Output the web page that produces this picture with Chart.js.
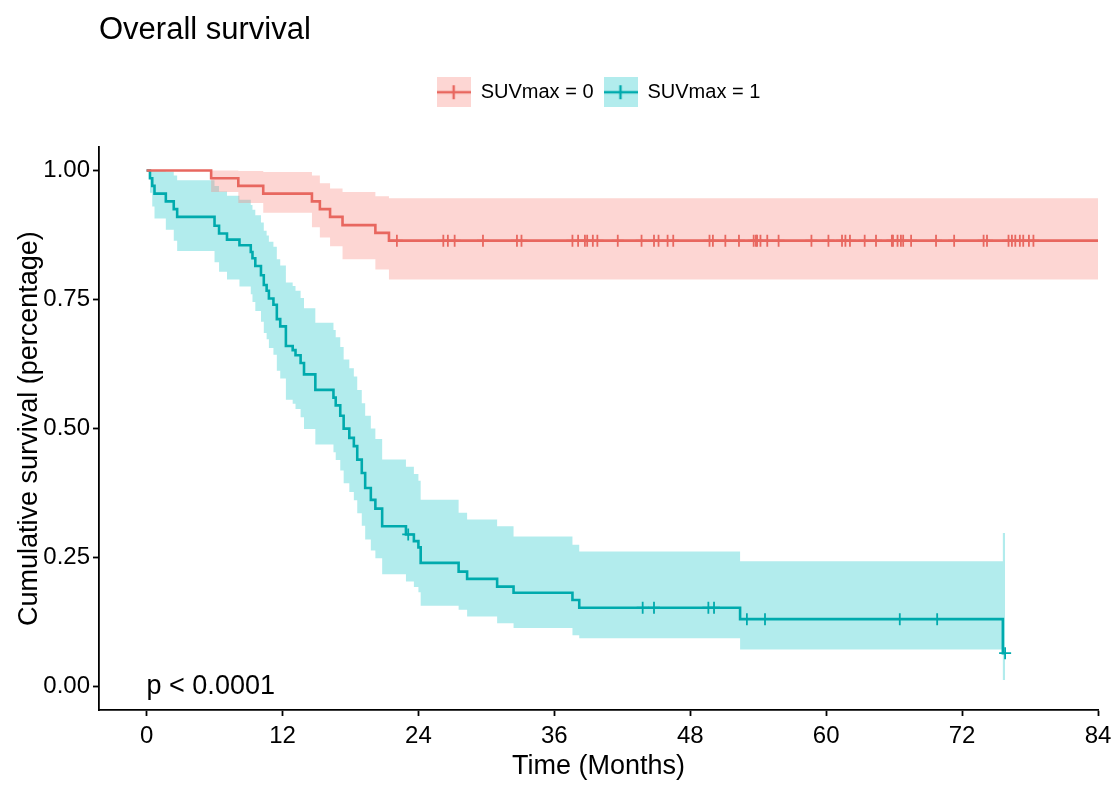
<!DOCTYPE html>
<html>
<head>
<meta charset="utf-8">
<title>Overall survival</title>
<script src="https://cdn.jsdelivr.net/npm/chart.js@4.4.1/dist/chart.umd.min.js"></script>
<style>
  html, body { margin: 0; padding: 0; background: #fff; }
  #wrap { width: 1118px; height: 785px; }
</style>
</head>
<body>
<div id="wrap"><canvas id="km"></canvas></div>
<script>
// SUVmax = 0 : event times (months), survival and CI after each event
const redTime  = [0, 5.7, 8.1, 10.3, 14.6, 15.3, 16.2, 17.3, 20.2, 21.4];
const redSurv  = [1, 0.985, 0.970, 0.955, 0.940, 0.925, 0.910, 0.894, 0.879, 0.864];
const redUpper = [1, 1.000, 0.999, 0.997, 0.990, 0.975, 0.965, 0.958, 0.950, 0.946];
const redLower = [1, 0.958, 0.937, 0.918, 0.890, 0.870, 0.853, 0.828, 0.808, 0.789];
const redEnd = 84;
const redCensor = [22.1, 26.2, 26.6, 27.2, 29.7, 32.7, 33.1, 37.6, 38.1, 38.7, 38.9, 39.4,
  39.8, 41.6, 43.7, 44.8, 45.2, 46.0, 46.5, 49.7, 50.0, 51.1, 52.3, 53.6, 53.8, 53.9, 54.2,
  54.8, 55.8, 58.7, 60.2, 61.4, 61.7, 62.1, 63.4, 64.4, 65.8, 65.9, 66.3, 66.6, 66.8, 67.5,
  69.7, 71.3, 73.9, 74.2, 76.1, 76.4, 76.7, 77.1, 77.4, 77.9, 78.3];

// SUVmax = 1
const tealTime = [0, 0.3, 0.5, 0.7, 1.7, 2.4, 2.7, 6.0, 6.4, 7.1, 8.2, 9.2, 9.35, 9.6,
  10.1, 10.35, 10.6, 10.8, 11.2, 11.5, 11.8, 12.3, 12.9, 13.15, 13.6, 13.9, 14.9,
  16.5, 16.7, 17.1, 17.4, 17.9, 18.3, 18.6, 19.0, 19.3, 19.8, 20.2, 20.8,
  22.9, 23.6, 24.0, 24.2, 27.55, 28.3, 30.95, 32.4, 37.6, 38.2, 52.4, 75.6];
const tealSurv = [1, 0.985, 0.970, 0.955, 0.940, 0.925, 0.910, 0.893, 0.878, 0.866, 0.855, 0.842, 0.830, 0.815,
  0.797, 0.778, 0.767, 0.752, 0.740, 0.712, 0.698, 0.660, 0.652, 0.642, 0.627, 0.605, 0.575,
  0.560, 0.545, 0.525, 0.500, 0.482, 0.466, 0.440, 0.414, 0.385, 0.362, 0.345, 0.311,
  0.295, 0.282, 0.270, 0.240, 0.223, 0.209, 0.194, 0.182, 0.168, 0.153, 0.131, 0.065];
const tealUpper = [1, 1, 1, 1, 0.998, 0.990, 0.981, 0.970, 0.959, 0.951, 0.943, 0.933, 0.924, 0.913,
  0.899, 0.883, 0.874, 0.862, 0.852, 0.828, 0.816, 0.783, 0.776, 0.767, 0.753, 0.733, 0.705,
  0.691, 0.677, 0.658, 0.634, 0.617, 0.601, 0.575, 0.549, 0.525, 0.500, 0.480, 0.440,
  0.426, 0.412, 0.399, 0.362, 0.337, 0.324, 0.311, 0.291, 0.275, 0.262, 0.243, 0.298];
const tealLower = [1, 0.957, 0.930, 0.907, 0.885, 0.864, 0.844, 0.822, 0.804, 0.789, 0.775, 0.760, 0.745, 0.728,
  0.707, 0.685, 0.673, 0.656, 0.643, 0.612, 0.597, 0.556, 0.548, 0.538, 0.522, 0.499, 0.469,
  0.454, 0.439, 0.419, 0.394, 0.377, 0.361, 0.336, 0.312, 0.285, 0.264, 0.249, 0.218,
  0.204, 0.193, 0.183, 0.157, 0.149, 0.136, 0.123, 0.114, 0.100, 0.094, 0.072, 0.013];
const tealEnd = 75.8;
const tealCensor = [23.1, 43.8, 44.8, 49.6, 50.1, 53.0, 54.6, 66.5, 69.8, 75.8];

const groupNames = ['SUVmax = 0', 'SUVmax = 1'];
const xTicks = [0, 12, 24, 36, 48, 60, 72, 84];
const yTicks = [0, 0.25, 0.5, 0.75, 1];
const pText = 'p < 0.0001';

const redLine = '#E8675F', redFill = 'rgba(248, 118, 109, 0.3)';
const tealLine = '#00AAAD', tealFill = 'rgba(0, 191, 196, 0.3)';
const fontFam = '"Liberation Sans", Arial, Helvetica, sans-serif';

Chart.defaults.font.family = fontFam;
Chart.defaults.color = '#000';

// step points, carried on to the last follow-up time
function steps(times, vals, end) {
  const pts = times.map((t, i) => ({x: t, y: vals[i]}));
  pts.push({x: end, y: vals[vals.length - 1]});
  return pts;
}
function levelAt(times, surv, t) {
  let v = surv[0];
  for (let i = 0; i < times.length; i++) if (times[i] <= t) v = surv[i];
  return v;
}
function censorPts(cens, times, surv) {
  return cens.map(t => ({x: t, y: levelAt(times, surv, t)}));
}
function legendIcon(fill, stroke) {
  const c = document.createElement('canvas');
  c.width = 34; c.height = 30;
  const g = c.getContext('2d');
  g.fillStyle = fill; g.fillRect(0, 0, 34, 30);
  g.strokeStyle = stroke; g.lineWidth = 2.4;
  g.beginPath();
  g.moveTo(0, 15); g.lineTo(34, 15);
  g.moveTo(17, 8); g.lineTo(17, 22);
  g.stroke();
  return c;
}
const icons = [legendIcon(redFill, redLine), legendIcon(tealFill, tealLine)];

const band = (label, pts, fill, bg) => ({
  label: label, data: pts, stepped: true, borderWidth: 0, pointRadius: 0,
  fill: fill, backgroundColor: bg, order: 3
});

const pValueLabel = {
  id: 'pValueLabel',
  afterDatasetsDraw(chart) {
    const {ctx, scales} = chart;
    ctx.save();
    ctx.font = '27px ' + fontFam;
    ctx.fillStyle = '#000';
    ctx.textBaseline = 'middle';
    ctx.fillText(pText, scales.x.getPixelForValue(0), scales.y.getPixelForValue(0));
    ctx.restore();
  }
};

new Chart(document.getElementById('km'), {
  type: 'line',
  data: {
    datasets: [
      band('red upper', steps(redTime, redUpper, redEnd), false, redFill),
      band('red lower', steps(redTime, redLower, redEnd), '-1', redFill),
      band('teal upper', steps(tealTime, tealUpper, tealEnd), false, tealFill),
      band('teal lower', steps(tealTime, tealLower, tealEnd), '-1', tealFill),
      {
        label: groupNames[0], data: steps(redTime, redSurv, redEnd), stepped: true,
        borderColor: redLine, borderWidth: 2.6, pointRadius: 0, fill: false, order: 1
      },
      {
        label: groupNames[1], data: steps(tealTime, tealSurv, tealEnd), stepped: true,
        borderColor: tealLine, borderWidth: 2.6, pointRadius: 0, fill: false, order: 1
      },
      {
        label: 'red censored', data: censorPts(redCensor, redTime, redSurv), showLine: false,
        pointStyle: 'cross', pointRadius: 6, borderColor: redLine, borderWidth: 1.8, order: 0
      },
      {
        label: 'teal censored', data: censorPts(tealCensor, tealTime, tealSurv), showLine: false,
        pointStyle: 'cross', pointRadius: 6, borderColor: tealLine, borderWidth: 1.8, order: 0
      }
    ]
  },
  options: {
    responsive: true,
    maintainAspectRatio: false,
    animation: false,
    layout: {padding: {left: 0, right: 20, top: 0, bottom: 0}},
    plugins: {
      tooltip: {enabled: false},
      title: {
        display: true, text: 'Overall survival', align: 'start', fullSize: false,
        color: '#000', font: {size: 31, weight: 'normal'}, padding: {top: 12, bottom: 23}
      },
      subtitle: {
        // empty spacer between legend and plot panel
        display: true, text: '', weight: 500, font: {size: 10, lineHeight: 1},
        padding: {top: 25, bottom: 0}
      },
      legend: {
        display: true, position: 'top', align: 'center', fullSize: false,
        labels: {
          usePointStyle: true, pointStyleWidth: 34, padding: 10,
          font: {size: 20}, color: '#000',
          generateLabels: () => groupNames.map((name, i) => ({
            text: name, pointStyle: icons[i], fillStyle: 'transparent',
            strokeStyle: 'transparent', lineWidth: 0, hidden: false, fontColor: '#000'
          }))
        },
        onClick: null
      }
    },
    scales: {
      x: {
        type: 'linear', min: -4.2, max: 84,
        afterFit: s => { s.height = 75; },
        afterBuildTicks: s => { s.ticks = xTicks.map(v => ({value: v})); },
        ticks: {font: {size: 24}, color: '#000', padding: 6, maxRotation: 0,
          callback: v => String(v)},
        grid: {display: true, drawOnChartArea: false, drawTicks: true, tickLength: 6,
          tickColor: '#000', tickWidth: 1.8},
        border: {display: true, color: '#000', width: 1.8},
        title: {display: true, text: 'Time (Months)', font: {size: 27}, color: '#000',
          padding: {top: 0, bottom: 2}}
      },
      y: {
        type: 'linear', min: -0.045, max: 1.045,
        afterFit: s => { s.width = 99; },
        afterBuildTicks: s => { s.ticks = yTicks.map(v => ({value: v})); },
        ticks: {font: {size: 24}, color: '#000', padding: 3,
          callback: v => Number(v).toFixed(2)},
        grid: {display: true, drawOnChartArea: false, drawTicks: true, tickLength: 6,
          tickColor: '#000', tickWidth: 1.8},
        border: {display: true, color: '#000', width: 1.8},
        title: {display: true, text: 'Cumulative survival (percentage)', font: {size: 27},
          color: '#000', padding: {top: 13, bottom: 0}}
      }
    }
  },
  plugins: [pValueLabel]
});
</script>
</body>
</html>
